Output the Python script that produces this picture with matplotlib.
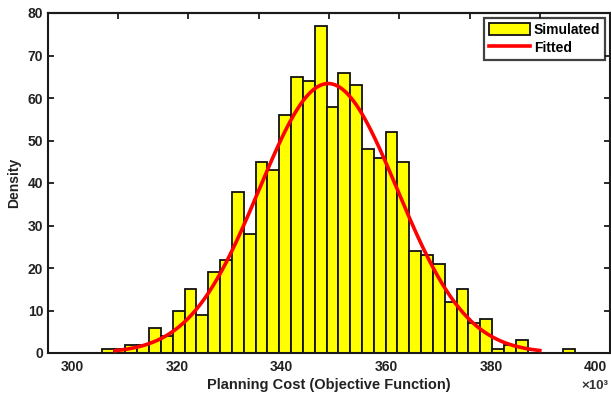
import matplotlib
matplotlib.use("Agg")
import matplotlib.pyplot as plt
import numpy as np

# ---- data ----
counts = [1, 1, 2, 2, 6, 4, 10, 15, 9, 19, 22, 38, 28, 45, 43, 56, 65, 64, 77, 58,
          66, 63, 48, 46, 52, 45, 24, 23, 21, 12, 15, 7, 8, 1, 2, 3, 0, 0, 0, 1]
bin_left = 305.67      # left edge of first bin (x10^3)
bin_width = 2.258      # width of each bin (x10^3)

fit_mean = 348.9
fit_std = 13.2
fit_peak = 63.4
fit_range = [308.2, 389.3]

xticks = [300, 320, 340, 360, 380, 400]
xticklabels = ["300", "320", "340", "360", "380", "400"]
yticks = [0, 10, 20, 30, 40, 50, 60, 70, 80]
top_ticks = [308.7, 322.1, 335.6, 349.0, 362.5, 375.9, 389.3]

plt.rcParams['font.family'] = ['Liberation Sans', 'DejaVu Sans']
plt.rcParams['font.weight'] = 'bold'

W, H = 611, 396
fig = plt.figure(figsize=(W / 100, H / 100), dpi=100)
ax = fig.add_axes([47.5 / W, (H - 353) / H, (610 - 47.5) / W, 340 / H])

lefts = [bin_left + i * bin_width for i in range(len(counts))]
bars = ax.bar(lefts, counts, width=bin_width, align='edge', color='#FFFF00',
              edgecolor='#111111', linewidth=1.3, label='Simulated', zorder=2)

xs = np.linspace(fit_range[0], fit_range[1], 300)
ys = fit_peak * np.exp(-0.5 * ((xs - fit_mean) / fit_std) ** 2)
line, = ax.plot(xs, ys, color='#FF0000', linewidth=2.6, label='Fitted', zorder=3)

ax.set_xlim(295.3, 402.7)
ax.set_ylim(0, 80)
ax.set_xticks(xticks)
ax.set_xticklabels(xticklabels)
ax.set_yticks(yticks)
ax.tick_params(axis='x', which='both', length=0, pad=5, labelsize=10)
ax.tick_params(axis='y', which='both', direction='in', length=4, width=1.3,
               right=True, labelsize=10, pad=3, colors='#1a1a1a')
for lab in ax.get_xticklabels() + ax.get_yticklabels():
    lab.set_fontweight('bold')
    lab.set_color('#222222')

sec = ax.secondary_xaxis('top')
sec.set_xticks(top_ticks)
sec.set_xticklabels([])
sec.tick_params(direction='in', length=4, width=1.3, colors='#1a1a1a')

for s in ax.spines.values():
    s.set_linewidth(1.5)
    s.set_color('#1a1a1a')
for s in sec.spines.values():
    s.set_linewidth(1.5)
    s.set_color('#1a1a1a')

ax.set_xlabel('Planning Cost (Objective Function)', fontsize=10.5,
              fontweight='bold', color='#222222', labelpad=3)
ax.set_ylabel('Density', fontsize=10, fontweight='bold', color='#222222',
              labelpad=5)

leg = ax.legend([bars, line], ['Simulated', 'Fitted'], loc='upper right',
                fontsize=10, frameon=True, fancybox=False,
                borderaxespad=0.35, handlelength=3.0, handleheight=1.0,
                borderpad=0.35, labelspacing=0.3, handletextpad=0.25)
leg.get_frame().set_edgecolor('#111111')
leg.get_frame().set_linewidth(1.6)
for t in leg.get_texts():
    t.set_fontweight('bold')

fig.text(581 / W, 1 - 386 / H, '\u00d710\u00b3', fontsize=9.5, color='#333333',
         fontweight='bold', va='center', ha='left')

fig.savefig('out.png', dpi=100)
